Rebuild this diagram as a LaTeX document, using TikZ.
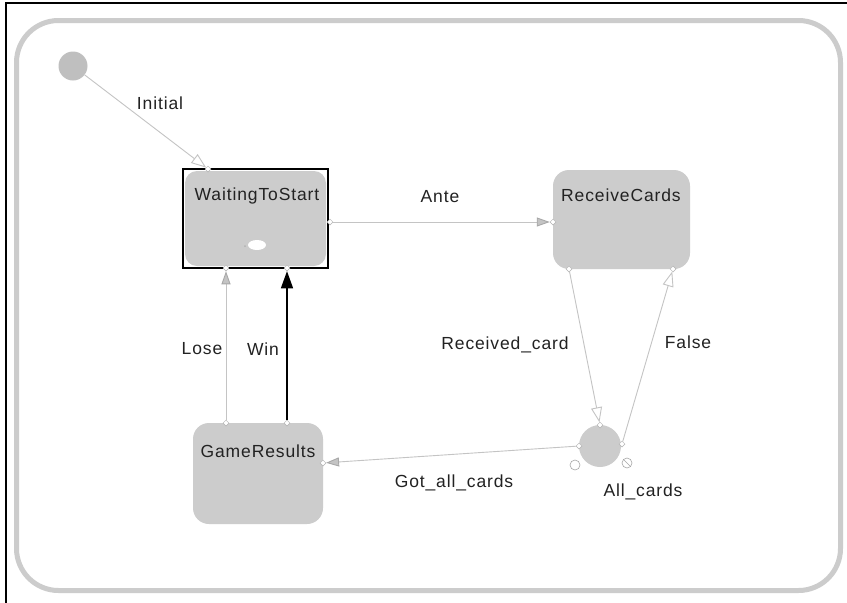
\documentclass[tikz,border=0pt]{standalone}
\usepackage{fontspec}
\setmainfont{Liberation Sans}[LetterSpace=5]
\usetikzlibrary{arrows.meta,shapes.geometric}
\definecolor{stfill}{HTML}{CCCCCC}
\definecolor{lnc}{HTML}{C4C4C4}
\definecolor{headc}{HTML}{A8A8A8}
\definecolor{txt}{HTML}{222222}
\tikzset{
  lbl/.style={font=\fontsize{17.5}{20}\selectfont, text=txt, inner sep=0pt},
  state/.style={fill=stfill, rounded corners=14pt},
  conn/.style={draw=lnc, line width=0.9pt},
  openhead/.style={-{Triangle[open, length=15pt, width=11pt, fill=white]}},
  grayhead/.style={-{Triangle[length=13pt, width=9pt, fill=lnc, color=headc]}},
  blackhead/.style={-{Triangle[length=17pt, width=12pt]}},
  port/.style={diamond, draw=gray!60, fill=white, inner sep=0pt, minimum size=6pt, line width=0.5pt},
}
\begin{document}
\begin{tikzpicture}[x=1pt, y=-1pt]
\useasboundingbox (0,0) rectangle (847,603);
\fill[white] (0,0) rectangle (847,603);
% outer frame lines
\draw[line width=2pt] (6,3) -- (847,3);
\draw[line width=2pt] (6,2) -- (6,603);
% outer container
\draw[draw=stfill, line width=5pt, rounded corners=42pt] (16.5,20.5) rectangle (840.5,590.5);

% initial pseudostate
\node[circle, fill=gray!50, minimum size=29pt, inner sep=0pt] (init) at (73,66) {};

% WaitingToStart
\fill[state, rounded corners=12pt] (185,171) rectangle (326,266);
\draw[line width=2pt] (183,169) rectangle (328,268);
\node[lbl] (wts) at (257,196) {WaitingToStart};
\node[ellipse, fill=white, minimum width=18pt, minimum height=10pt, inner sep=0pt] (hist) at (257,245) {};
\fill[gray!60] (245,246) circle (1pt);

% ReceiveCards
\fill[state, rounded corners=16pt] (553,170) rectangle (690,269);
\node[lbl] (rc) at (621,195) {ReceiveCards};

% GameResults
\fill[state, rounded corners=16pt] (193,423) rectangle (323,524);
\node[lbl] (gr) at (258,451) {GameResults};

% choice
\node[circle, fill=stfill, minimum size=42pt, inner sep=0pt] (ch) at (600,446) {};
\node[circle, draw=gray!70, minimum size=10pt, inner sep=0pt, line width=0.6pt] (chl) at (575,465) {};
\node[circle, draw=gray!70, minimum size=10pt, inner sep=0pt, line width=0.6pt] (chr) at (627,463) {};
\draw[gray!70, line width=0.6pt] (chr.north west) -- (chr.south east);

% ports
\node[port] (pI) at (208,169) {};
\node[port] (pA1) at (330,222) {};
\node[port] (pA2) at (553,222) {};
\node[port] (pR1) at (569,269) {};
\node[port] (pR2) at (600,425) {};
\node[port] (pF1) at (622,444) {};
\node[port] (pF2) at (673,269) {};
\node[port] (pG1) at (579,446) {};
\node[port] (pG2) at (323,463) {};
\node[port] (pL1) at (226,423) {};
\node[port] (pL2) at (226,268) {};
\node[port] (pW1) at (287,423) {};
\node[port] (pW2) at (287,268) {};

% connectors
\draw[conn, openhead] (init) -- (pI);
\draw[conn, grayhead] (pA1) -- (pA2);
\draw[conn, openhead] (pR1) -- (pR2);
\draw[conn, openhead] (pF1) -- (pF2);
\draw[conn, grayhead] (pG1) -- (pG2);
\draw[conn, grayhead] (pL1) -- (pL2);
\draw[line width=1.2pt, black, blackhead] (pW1) -- (pW2);

% labels
\node[lbl] (lInit) at (160,103) {Initial};
\node[lbl] (lAnte) at (440,197) {Ante};
\node[lbl] (lRec) at (505,345) {Received\_card};
\node[lbl] (lFalse) at (688,342) {False};
\node[lbl] (lGot) at (454,483) {Got\_all\_cards};
\node[lbl] (lAll) at (643,492) {All\_cards};
\node[lbl] (lLose) at (202,349) {Lose};
\node[lbl] (lWin) at (263,349) {Win};
\end{tikzpicture}
\end{document}
